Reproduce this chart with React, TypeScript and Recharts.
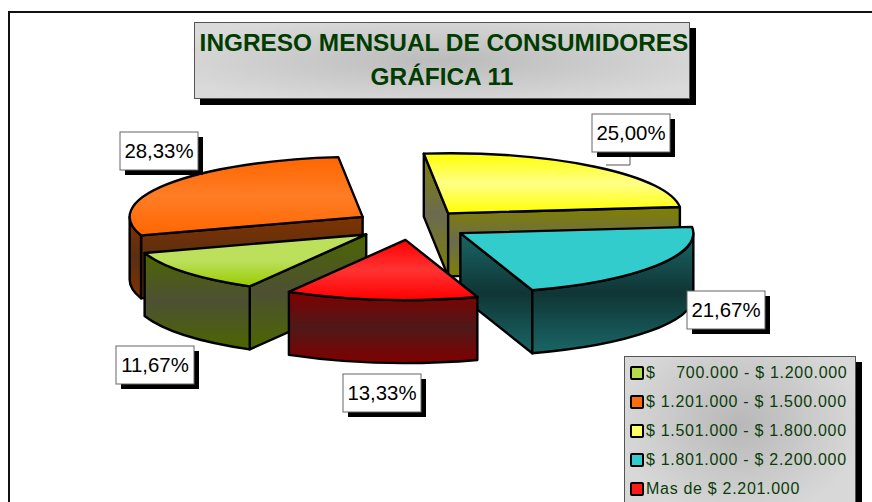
import React from "react";
import { PieChart, Pie, Legend } from "recharts";

const CATEGORIES = [
  "$    700.000 - $ 1.200.000",
  "$ 1.201.000 - $ 1.500.000",
  "$ 1.501.000 - $ 1.800.000",
  "$ 1.801.000 - $ 2.200.000",
  "Mas de $ 2.201.000",
];
const SHARES = [11.67, 28.33, 25.0, 21.67, 13.33];
const TITLE_LINES = ["INGRESO MENSUAL DE CONSUMIDORES", "GRÁFICA 11"];

// Styling, by category position
const SWATCH = ["#B5DC4A", "#FF6C0E", "#FFFF66", "#33CCCC", "#FF1A1A"];
const TOP_STOPS = [
  ["#BCE05C", "#BCE05C", "#99CC00"],
  ["#FF6600", "#FF7D26", "#FF6600"],
  ["#FFFF00", "#FFFF88", "#FFFF00"],
  ["#33CCCC", "#33CCCC", "#33CCCC"],
  ["#FF0000", "#FF3333", "#FF0000"],
];
const WALL_STOPS = [
  ["#4C6600", "#4D5033"],
  ["#803300", "#5A2E12"],
  ["#808000", "#6B6B50"],
  ["#1A6666", "#103535"],
  ["#800000", "#4F1818"],
];
const LABEL_BOX = [
  { dx: -295.5, dy: 121 },
  { dx: -291.5, dy: -93 },
  { dx: 180.5, dy: -111 },
  { dx: 275.5, dy: 66 },
  { dx: -68.5, dy: 149 },
];

const data = CATEGORIES.map((name, i) => ({ name, value: SHARES[i], fill: SWATCH[i] }));

const CX = 411.5;
const CY = 225;
const RX = 233;
const RY = 60;
const DEPTH = 63;
const EXPLODE = 0.25;
const RAD = Math.PI / 180;
const FONT = '"Liberation Sans", Arial, sans-serif';

const makeShape = (visible: number[]) => (props: any) => {
  const idx = CATEGORIES.indexOf(props.name ?? props.payload?.name);
  if (!visible.includes(idx)) return <g />;
  const { cx, cy, startAngle, endAngle, midAngle, outerRadius } = props;
  const ry = (outerRadius * RY) / RX;
  const vx = cx + EXPLODE * outerRadius * Math.cos(midAngle * RAD);
  const vy = cy - EXPLODE * ry * Math.sin(midAngle * RAD);
  const pt = (a: number, dz = 0): [number, number] => [
    vx + outerRadius * Math.cos(a * RAD),
    vy - ry * Math.sin(a * RAD) + dz,
  ];
  const arc = (a: number, b: number, dz = 0, reverse = false) => {
    const [x, y] = pt(reverse ? a : b, dz);
    return `A${outerRadius} ${ry} 0 ${Math.abs(a - b) > 180 ? 1 : 0} ${reverse ? 0 : 1} ${x} ${y}`;
  };
  const p1 = pt(startAngle);
  const p2 = pt(endAngle);
  const radialWall = (p: [number, number]) =>
    `M${vx} ${vy}L${p[0]} ${p[1]}L${p[0]} ${p[1] + DEPTH}L${vx} ${vy + DEPTH}Z`;
  const showStartWall = Math.cos(startAngle * RAD) < 0;
  const showEndWall = Math.cos(endAngle * RAD) > 0;

  const outers: string[] = [];
  for (const k of [-1, 0, 1]) {
    const hi = Math.min(startAngle, 360 * k);
    const lo = Math.max(endAngle, -180 + 360 * k);
    if (hi > lo) {
      const a = pt(hi);
      const b = pt(lo);
      outers.push(
        `M${a[0]} ${a[1]}${arc(hi, lo)}L${b[0]} ${b[1] + DEPTH}${arc(hi, lo, DEPTH, true)}Z`
      );
    }
  }
  const line = { stroke: "#000", strokeWidth: 2.4, strokeLinejoin: "round" as const };
  return (
    <g>
      {showStartWall && <path d={radialWall(p1)} fill={`url(#wall${idx})`} {...line} />}
      {showEndWall && <path d={radialWall(p2)} fill={`url(#wall${idx})`} {...line} />}
      {outers.map((d) => (
        <path key={d} d={d} fill={`url(#wall${idx})`} {...line} />
      ))}
      <path
        d={`M${vx} ${vy}L${p1[0]} ${p1[1]}${arc(startAngle, endAngle)}Z`}
        fill={`url(#top${idx})`}
        {...line}
      />
    </g>
  );
};

const renderLabel = (props: any) => {
  const idx = CATEGORIES.indexOf(props.name);
  const box = LABEL_BOX[idx];
  const x = props.cx + box.dx;
  const y = props.cy + box.dy;
  const w = 78;
  const h = 38;
  const text = SHARES[idx].toFixed(2).replace(".", ",") + "%";
  return (
    <g key={props.name}>
      {idx === 2 && (
        <path d={`M${x + 38} ${y + h}V${y + 51}H${x + 14}`} fill="none" stroke="#555" strokeWidth={1} />
      )}
      <rect x={x + 5} y={y + 5} width={w} height={h} fill="#000" />
      <rect x={x} y={y} width={w} height={h} fill="#fff" stroke="#666" strokeWidth={1} />
      <text
        x={x + w / 2}
        y={y + 26}
        textAnchor="middle"
        fontFamily={FONT}
        fontSize={20.4}
        fill="#000"
      >
        {text}
      </text>
    </g>
  );
};

const renderLegend = () => (
  <div
    style={{
      boxSizing: "border-box",
      width: 232,
      height: 160,
      background: "radial-gradient(ellipse at 50% 42%, #B8B8B8 0%, #D8D8D8 75%)",
      border: "1px solid #555",
      boxShadow: "6px 6px 0 #000",
      fontFamily: FONT,
      fontSize: 16,
      letterSpacing: 0.7,
      color: "#0A3C0A",
      paddingTop: 1,
    }}
  >
    {CATEGORIES.map((name, i) => (
      <div key={name} style={{ display: "flex", alignItems: "center", height: 29.2, paddingLeft: 5, whiteSpace: "pre" }}>
        <span
          style={{
            boxSizing: "border-box",
            display: "inline-block",
            width: 14,
            height: 14,
            background: SWATCH[i],
            border: "2.5px solid #000",
            borderRadius: 2,
            marginRight: 2,
            flex: "none",
          }}
        />
        <span>{name}</span>
      </div>
    ))}
  </div>
);

const grad = (id: string, stops: string[]) => (
  <linearGradient key={id} id={id} x1="0" y1="0" x2="0" y2="1">
    <stop offset="0" stopColor={stops[0]} />
    <stop offset="0.5" stopColor={stops[1]} />
    <stop offset="1" stopColor={stops[2] ?? stops[0]} />
  </linearGradient>
);

export default function App() {
  return (
    <div style={{ position: "fixed", left: 0, top: 0, width: 872, height: 502, overflow: "hidden", background: "#fff" }}>
      <PieChart width={872} height={502} margin={{ top: 0, right: 0, bottom: 0, left: 0 }}>
        <defs>
          {TOP_STOPS.map((s, i) => grad(`top${i}`, s))}
          {WALL_STOPS.map((s, i) => grad(`wall${i}`, s))}
          <radialGradient id="titleBg" cx="0.5" cy="0.5" r="0.6">
            <stop offset="0" stopColor="#BBBBBB" />
            <stop offset="1" stopColor="#DADADA" />
          </radialGradient>
        </defs>
        <path d="M9 520V12H880" fill="none" stroke="#111" strokeWidth={2} />
        <rect x={200} y={28} width={496} height={77} fill="#000" />
        <rect x={194.5} y={22.5} width={495} height={76} fill="url(#titleBg)" stroke="#555" strokeWidth={1} />
        <text x={444} y={51} textAnchor="middle" fontFamily={FONT} fontWeight="bold" fontSize={24.4} fill="#003C00">
          {TITLE_LINES[0]}
        </text>
        <text x={442} y={85} textAnchor="middle" fontFamily={FONT} fontWeight="bold" fontSize={24.4} fill="#003C00">
          {TITLE_LINES[1]}
        </text>
        <Pie
          data={data}
          dataKey="value"
          nameKey="name"
          cx={CX}
          cy={CY}
          innerRadius={0}
          outerRadius={RX}
          startAngle={240}
          endAngle={-120}
          paddingAngle={0}
          stroke="none"
          isAnimationActive={false}
          legendType="rect"
          label={false}
          labelLine={false}
          shape={makeShape([1, 2])}
        />
        <Pie
          data={data}
          dataKey="value"
          nameKey="name"
          cx={CX}
          cy={CY}
          innerRadius={0}
          outerRadius={RX}
          startAngle={240}
          endAngle={-120}
          paddingAngle={0}
          stroke="none"
          isAnimationActive={false}
          legendType="none"
          label={renderLabel}
          labelLine={false}
          shape={makeShape([0, 3, 4])}
        />
        <Legend
          content={renderLegend}
          wrapperStyle={{ position: "absolute", left: 624, top: 356, width: 232, height: 160, bottom: "auto", right: "auto" }}
        />
      </PieChart>
    </div>
  );
}
